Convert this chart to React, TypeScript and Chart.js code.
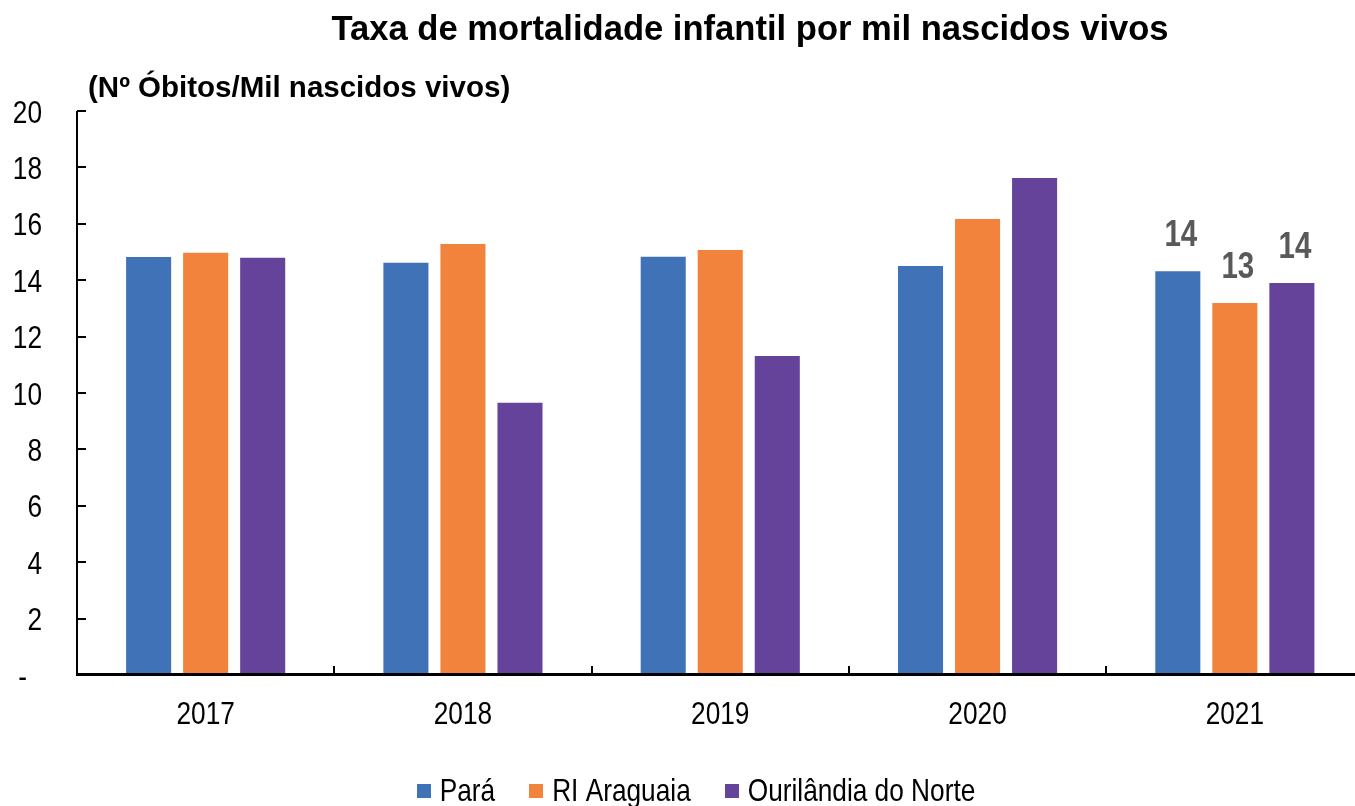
import React, { useEffect, useRef } from "react";
import { Chart, registerables } from "chart.js";

Chart.register(...registerables);

const TITLE = "Taxa de mortalidade infantil por mil nascidos vivos";
const Y_UNIT = "(Nº Óbitos/Mil nascidos vivos)";
const YEARS = ["2017", "2018", "2019", "2020", "2021"];
const SERIES_NAMES = ["Pará", "RI Araguaia", "Ourilândia do Norte"];
const PARA = [14.82, 14.62, 14.83, 14.5, 14.32];
const RI_ARAGUAIA = [14.97, 15.28, 15.07, 16.17, 13.19];
const OURILANDIA = [14.8, 9.65, 11.31, 17.62, 13.9];
const SERIES_COLORS = ["#4072B8", "#F2833C", "#65439A"];
const Y_TICKS = [0, 2, 4, 6, 8, 10, 12, 14, 16, 18, 20];
const ZERO_LABEL = "-";
const LABELED_YEARS = ["2021"];

const FONT = '"Liberation Sans", Arial, sans-serif';
const NARROW_SCALE = 0.82;

const CANVAS_W = 1370;
const CANVAS_H = 806;

function narrowText(
  ctx: CanvasRenderingContext2D,
  text: string,
  x: number,
  y: number,
  align: CanvasTextAlign,
  font: string,
  color: string
) {
  ctx.save();
  ctx.font = font;
  ctx.fillStyle = color;
  ctx.textAlign = align;
  ctx.textBaseline = "alphabetic";
  ctx.translate(x, y);
  ctx.scale(NARROW_SCALE, 1);
  ctx.fillText(text, 0, 0);
  ctx.restore();
}

function narrowWidth(ctx: CanvasRenderingContext2D, text: string, font: string) {
  ctx.save();
  ctx.font = font;
  const w = ctx.measureText(text).width * NARROW_SCALE;
  ctx.restore();
  return w;
}

const decorPlugin = {
  id: "decor",
  afterDatasetsDraw(chart: any) {
    const { ctx, chartArea: a, scales } = chart;
    const xs = scales.x;
    const ys = scales.y;
    ctx.save();
    ctx.strokeStyle = "#000";
    // y axis line + inner ticks
    ctx.lineWidth = 2;
    ctx.beginPath();
    ctx.moveTo(a.left, a.top);
    ctx.lineTo(a.left, a.bottom);
    ctx.stroke();
    for (const v of Y_TICKS) {
      if (v === 0) continue;
      const py = Math.round(ys.getPixelForValue(v));
      ctx.beginPath();
      ctx.moveTo(a.left, py);
      ctx.lineTo(a.left + 9, py);
      ctx.stroke();
    }
    // x axis line + inner ticks at category boundaries
    ctx.lineWidth = 3;
    ctx.beginPath();
    ctx.moveTo(a.left - 1, a.bottom - 0.5);
    ctx.lineTo(a.right, a.bottom - 0.5);
    ctx.stroke();
    ctx.lineWidth = 2;
    const n = YEARS.length;
    for (let i = 0; i <= n; i++) {
      let px: number;
      if (i === 0) px = a.left;
      else if (i === n) px = a.right;
      else px = (xs.getPixelForValue(i - 1) + xs.getPixelForValue(i)) / 2;
      px = Math.round(px);
      ctx.beginPath();
      ctx.moveTo(px, a.bottom);
      ctx.lineTo(px, a.bottom - 9);
      ctx.stroke();
    }
    ctx.restore();

    // y tick labels
    const tickFont = `32px ${FONT}`;
    for (const v of Y_TICKS) {
      const py = ys.getPixelForValue(v);
      if (v === 0) narrowText(ctx, ZERO_LABEL, 27, py + 11.5, "right", tickFont, "#000");
      else narrowText(ctx, String(v), 42, py + 11.5, "right", tickFont, "#000");
    }
    // x tick labels
    YEARS.forEach((yr, i) => {
      narrowText(ctx, yr, xs.getPixelForValue(i), 724, "center", tickFont, "#000");
    });

    // data labels for selected years
    const labFont = `bold 36px ${FONT}`;
    chart.data.datasets.forEach((ds: any, di: number) => {
      const meta = chart.getDatasetMeta(di);
      YEARS.forEach((yr, idx) => {
        if (!LABELED_YEARS.includes(yr)) return;
        const bar = meta.data[idx];
        const val = ds.data[idx];
        narrowText(ctx, String(Math.round(val)), bar.x + 3, bar.y - 25, "center", labFont, "#595959");
      });
    });
  },
  afterDraw(chart: any) {
    const { ctx } = chart;
    ctx.save();
    ctx.fillStyle = "#000";
    ctx.textBaseline = "alphabetic";
    // title
    ctx.font = `bold 34.6px ${FONT}`;
    ctx.textAlign = "center";
    ctx.fillText(TITLE, 750, 40);
    // unit
    ctx.font = `bold 29.5px ${FONT}`;
    ctx.textAlign = "left";
    ctx.fillText(Y_UNIT, 88, 97);
    ctx.restore();
    // legend
    const legFont = `32px ${FONT}`;
    const box = 14;
    const gapBoxText = 9;
    const gapItems = 34;
    const widths = SERIES_NAMES.map((s) => narrowWidth(ctx, s, legFont));
    const total =
      widths.reduce((acc, w) => acc + box + gapBoxText + w, 0) + gapItems * (SERIES_NAMES.length - 1);
    let x = 696 - total / 2;
    SERIES_NAMES.forEach((name, i) => {
      ctx.save();
      ctx.fillStyle = SERIES_COLORS[i];
      ctx.fillRect(Math.round(x), 784, box, box);
      ctx.restore();
      narrowText(ctx, name, x + box + gapBoxText, 801, "left", legFont, "#000");
      x += box + gapBoxText + widths[i] + gapItems;
    });
  },
};

export default function App() {
  const ref = useRef<HTMLCanvasElement | null>(null);

  useEffect(() => {
    document.body.style.margin = "0";
    document.body.style.overflow = "hidden";
    const canvas = ref.current;
    if (!canvas) return;
    const chart = new Chart(canvas, {
      type: "bar",
      data: {
        labels: YEARS,
        datasets: [PARA, RI_ARAGUAIA, OURILANDIA].map((d, i) => ({
          label: SERIES_NAMES[i],
          data: d,
          backgroundColor: SERIES_COLORS[i],
          borderWidth: 0,
          categoryPercentage: 0.665,
          barPercentage: 0.79,
        })),
      },
      options: {
        animation: false,
        responsive: false,
        devicePixelRatio: 1,
        layout: {
          padding: { top: 111, right: CANVAS_W - 1363.5, bottom: 71, left: 0 },
        },
        plugins: {
          legend: { display: false },
          title: { display: false },
          tooltip: { enabled: false },
        },
        scales: {
          x: {
            grid: { display: false, drawTicks: false },
            border: { display: false },
            ticks: { display: false },
            afterFit: (s: any) => {
              s.height = 60;
            },
          },
          y: {
            min: 0,
            max: 20,
            grid: { display: false, drawTicks: false },
            border: { display: false },
            ticks: { display: false, stepSize: 2 },
            afterFit: (s: any) => {
              s.width = 77;
            },
          },
        },
      },
      plugins: [decorPlugin],
    });
    return () => chart.destroy();
  }, []);

  return (
    <div style={{ width: CANVAS_W, height: CANVAS_H, overflow: "hidden" }}>
      <canvas ref={ref} width={CANVAS_W} height={CANVAS_H} style={{ display: "block" }} />
    </div>
  );
}
